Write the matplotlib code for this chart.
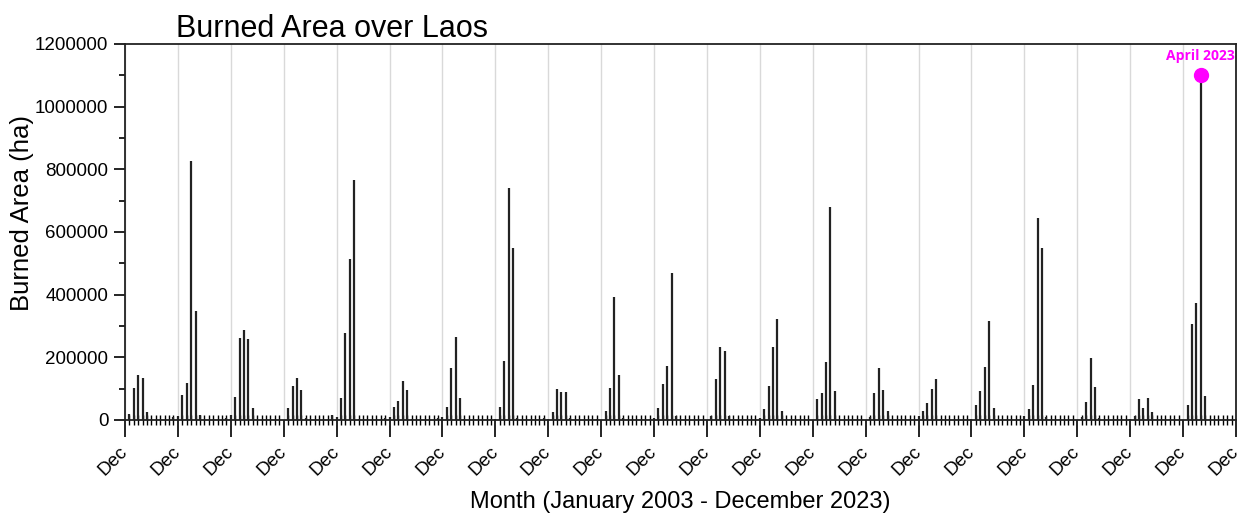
import matplotlib
matplotlib.use("Agg")
import matplotlib.pyplot as plt
import numpy as np
from matplotlib.ticker import MultipleLocator, FixedLocator

plt.rcParams['font.family'] = ['Liberation Sans', 'DejaVu Sans']

# Monthly burned area (ha), Jan..Dec for each year 2003-2023
years = list(range(2003, 2024))
burned_area_ha = [
    # 2003
    20000, 101000, 143000, 135000, 27000, 0, 0, 0, 0, 0, 10000, 13000,
    # 2004
    80000, 118000, 828000, 347000, 17000, 0, 0, 0, 0, 0, 6000, 15000,
    # 2005
    74000, 263000, 286000, 260000, 39000, 0, 0, 0, 0, 0, 0, 0,
    # 2006
    38000, 108000, 133000, 96000, 5000, 0, 0, 0, 0, 0, 17000, 10000,
    # 2007
    71000, 279000, 513000, 765000, 4000, 0, 0, 0, 0, 0, 6000, 10000,
    # 2008
    41000, 61000, 126000, 96000, 2000, 0, 0, 0, 0, 0, 6000, 11000,
    # 2009
    41000, 166000, 266000, 71000, 3000, 0, 0, 0, 0, 0, 4000, 2000,
    # 2010
    41000, 187000, 742000, 550000, 6000, 0, 0, 0, 0, 0, 6000, 4000,
    # 2011
    27000, 98000, 90000, 88000, 6000, 0, 0, 0, 0, 0, 4000, 0,
    # 2012
    29000, 101000, 393000, 145000, 6000, 0, 0, 0, 0, 0, 0, 6000,
    # 2013
    37000, 115000, 171000, 468000, 12000, 0, 0, 0, 0, 0, 0, 0,
    # 2014
    14000, 130000, 233000, 219000, 12000, 0, 0, 0, 0, 0, 0, 5000,
    # 2015
    34000, 109000, 233000, 322000, 29000, 0, 0, 0, 0, 0, 0, 0,
    # 2016
    66000, 85000, 185000, 681000, 93000, 0, 0, 0, 0, 0, 0, 0,
    # 2017
    10000, 87000, 167000, 96000, 29000, 0, 0, 0, 0, 0, 0, 12000,
    # 2018
    29000, 55000, 98000, 132000, 3000, 0, 0, 0, 0, 0, 0, 4000,
    # 2019
    48000, 93000, 170000, 316000, 39000, 0, 0, 0, 0, 0, 0, 13000,
    # 2020
    34000, 112000, 646000, 550000, 11000, 0, 0, 0, 0, 0, 0, 0,
    # 2021
    11000, 59000, 197000, 106000, 5000, 0, 0, 0, 0, 0, 0, 2000,
    # 2022
    13000, 67000, 39000, 69000, 27000, 0, 0, 0, 0, 0, 0, 0,
    # 2023
    48000, 306000, 375000, 1100000, 77000, 0, 0, 0, 0, 0, 0, 0,
]
tick_labels = ["Dec"] * (len(years) + 1)
highlight_label = "April 2023"
highlight_index = 20 * 12 + 3  # April 2023

title = "Burned Area over Laos"
xlabel = "Month (January 2003 - December 2023)"
ylabel = "Burned Area (ha)"

values = np.array(burned_area_ha)
pos = np.arange(1, len(values) + 1)  # Dec 2002 = 0

fig = plt.figure(figsize=(12.48, 5.25), dpi=100)
ax = fig.add_axes([125 / 1248, 105 / 525, (1236 - 125) / 1248, (420 - 44) / 525])

ax.vlines(pos, 0, values, linewidth=1.6, color='#222222', zorder=3)

ax.set_xlim(0, len(values))
ax.set_ylim(0, 1200000)

# x ticks
major = np.arange(0, len(values) + 1, 12)
ax.xaxis.set_major_locator(FixedLocator(major))
ax.xaxis.set_minor_locator(MultipleLocator(1))
ax.set_xticklabels(tick_labels, rotation=45, ha='right', va='center',
                   rotation_mode='anchor', fontsize=13.5)
ax.tick_params(axis='x', which='major', direction='out', length=12, width=1.2, pad=9)
ax.tick_params(axis='x', which='minor', direction='inout', length=7, width=1.0)

# y ticks
ax.yaxis.set_major_locator(MultipleLocator(200000))
ax.yaxis.set_minor_locator(MultipleLocator(100000))
ax.yaxis.set_major_formatter(matplotlib.ticker.FuncFormatter(lambda v, p: f"{int(v)}"))
ax.tick_params(axis='y', which='major', direction='out', length=8, width=1.2, labelsize=13.5, pad=4)
ax.tick_params(axis='y', which='minor', direction='out', length=4, width=1.2)

ax.grid(axis='x', which='major', color='#d9d9d9', linewidth=1.0, zorder=0)
for s in ax.spines.values():
    s.set_linewidth(1.3)
    s.set_color('#222222')

# highlight marker
ax.plot(pos[highlight_index], values[highlight_index], 'o', color='#ff00ff',
        markersize=10, zorder=5, clip_on=False)
ax.annotate(highlight_label, (pos[highlight_index], values[highlight_index]),
            xytext=(0, 14), textcoords='offset points', ha='center', va='center',
            color='#ff00ff', fontsize=10, fontweight='bold', family='Open Sans')

fig.text(176 / 1248, 1 - 37 / 525, title, fontsize=22, ha='left', va='baseline')
fig.text(680 / 1248, 1 - 502 / 525, xlabel, fontsize=17, ha='center', va='center')
fig.text(22 / 1248, 1 - 213 / 525, ylabel, fontsize=18.5, ha='center', va='center', rotation=90)

fig.savefig("out.png", dpi=100)
